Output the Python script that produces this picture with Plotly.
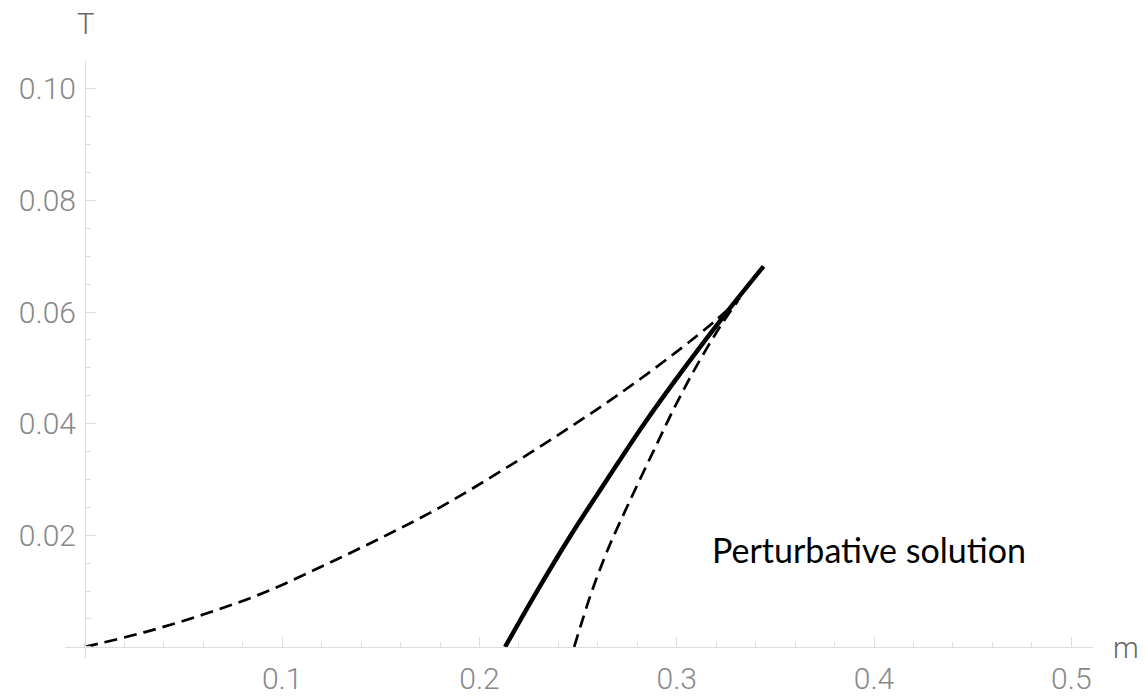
import plotly.graph_objects as go

# Solid curve (m vs T)
solid_T = [0.0, 0.01, 0.02, 0.03, 0.04, 0.05, 0.06, 0.0682]
solid_m = [0.2130, 0.2292, 0.2463, 0.2647, 0.2835, 0.3039, 0.3254, 0.3440]

# Upper dashed curve
upper_m = [0.0, 0.03, 0.06, 0.09, 0.12, 0.15, 0.18, 0.21, 0.24, 0.27, 0.30, 0.32, 0.332]
upper_T = [0.0, 0.0026, 0.0058, 0.0096, 0.0144, 0.0195, 0.0250, 0.0313, 0.0380, 0.0451, 0.0529, 0.0586, 0.0625]

# Lower dashed curve
lower_T = [0.0, 0.004, 0.010, 0.0174, 0.0260, 0.0353, 0.0430, 0.0500, 0.0574, 0.0620]
lower_m = [0.2480, 0.2515, 0.2570, 0.2650, 0.2760, 0.2885, 0.2990, 0.3095, 0.3220, 0.3310]

x_ticks = [0.1, 0.2, 0.3, 0.4, 0.5]
x_labels = ["0.1", "0.2", "0.3", "0.4", "0.5"]
y_ticks = [0.02, 0.04, 0.06, 0.08, 0.10]
y_labels = ["0.02", "0.04", "0.06", "0.08", "0.10"]

xr = [-0.0101, 0.511]
yr = [-0.002, 0.105]

fig = go.Figure()
fig.add_trace(go.Scatter(x=upper_m, y=upper_T, mode="lines", line=dict(color="black", width=2.7, dash="13px,7px", shape="spline")))
fig.add_trace(go.Scatter(x=lower_m, y=lower_T, mode="lines", line=dict(color="black", width=2.7, dash="13px,7px", shape="spline")))
fig.add_trace(go.Scatter(x=solid_m, y=solid_T, mode="lines", line=dict(color="black", width=4.5, shape="spline")))

axis_col = "#dcdcdc"
tick_font = dict(family="Roboto, Liberation Sans, sans-serif", size=30, color="#888888", weight=300)
lab_font = dict(family="Roboto, Liberation Sans, sans-serif", size=29, color="#666666", weight=300)

# page body has an 8px default margin; size the figure to fit inside the 1146x698 window
fig.update_layout(
    width=1130, height=682,
    margin=dict(l=57, r=45, t=53, b=32, autoexpand=False),
    paper_bgcolor="white", plot_bgcolor="white",
    showlegend=False,
    xaxis=dict(range=xr, showgrid=False, zeroline=False, showline=True, linecolor=axis_col, linewidth=1,
               anchor="free", position=(0 - yr[0]) / (yr[1] - yr[0]), automargin=False,
               ticks="inside", ticklen=10, tickcolor=axis_col, tickwidth=1,
               tickmode="array", tickvals=x_ticks, ticktext=x_labels, tickfont=tick_font, ticklabelstandoff=5,
               minor=dict(ticks="inside", ticklen=5, tickcolor=axis_col, tickmode="linear", tick0=0, dtick=0.02, showgrid=False)),
    yaxis=dict(range=yr, showgrid=False, zeroline=False, showline=True, linecolor=axis_col, linewidth=1,
               anchor="free", position=(0 - xr[0]) / (xr[1] - xr[0]), automargin=False,
               ticks="inside", ticklen=10, tickcolor=axis_col, tickwidth=1,
               tickmode="array", tickvals=y_ticks, ticktext=y_labels, tickfont=tick_font, ticklabelstandoff=3,
               minor=dict(ticks="inside", ticklen=5, tickcolor=axis_col, tickmode="linear", tick0=0, dtick=0.005, showgrid=False)),
    annotations=[
        dict(text="T", xref="paper", yref="paper", x=(85 - 65) / 1028, y=(658 - 24) / 597, showarrow=False,
             font=lab_font, xanchor="center", yanchor="middle"),
        dict(text="m", xref="paper", yref="paper", x=(1126 - 65) / 1028, y=(658 - 648) / 597, showarrow=False,
             font=lab_font, xanchor="center", yanchor="middle"),
        dict(text="Perturbative solution", xref="x", yref="y", x=0.3976, y=0.0174, showarrow=False,
             font=dict(family="Lato, Open Sans, sans-serif", size=34, color="black"), xanchor="center", yanchor="middle"),
    ],
)

fig.write_html("out.html")
